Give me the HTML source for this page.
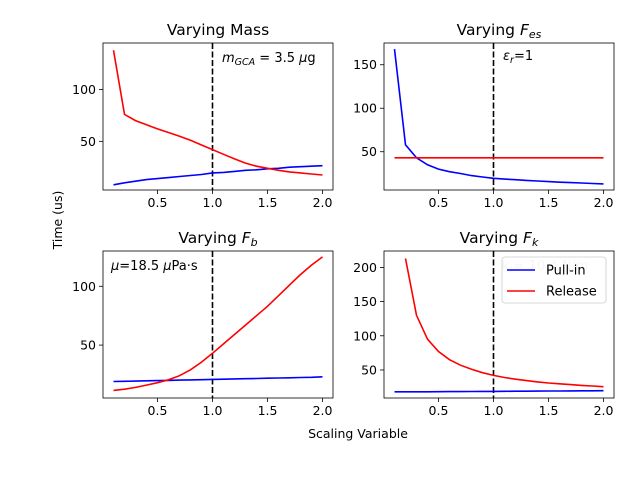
<!DOCTYPE html>
<html><head><meta charset="utf-8"><style>
body{margin:0;background:#fff}
svg{display:block;font-family:"DejaVu Sans","Liberation Sans",sans-serif}
</style></head><body>
<svg id="fig" width="640" height="480">
<text x="62" y="220" font-size="12.5" text-anchor="middle" transform="rotate(-90 62 220)">Time (us)</text>
<text x="358" y="438" font-size="12.5" text-anchor="middle">Scaling Variable</text>
</svg>
<script>
const xs=[0.1,0.2,0.3,0.4,0.5,0.6,0.7,0.8,0.9,1.0,1.1,1.2,1.3,1.4,1.5,1.6,1.7,1.8,1.9,2.0];
const massPull=[8,10,11.5,13,14,15,16,17,18,19.5,20,21,22,22.5,23.5,24,25,25.5,26,26.5];
const massRel=[138,76,70,66,62,58.5,55,51,46.5,42,37.5,33,29,26,24,22,20.5,19.5,18.5,17.5];
const fesPull=[168,58,43,35,30,27,25,22.5,21,19.5,18.5,17.8,17,16.3,15.7,15,14.5,14,13.5,13];
const fesRel=[43,43,43,43,43,43,43,43,43,43,43,43,43,43,43,43,43,43,43,43];
const fbPull=[19,19.2,19.4,19.6,19.8,20,20.2,20.4,20.6,20.8,21,21.2,21.4,21.6,21.8,22,22.2,22.4,22.6,23];
const fbRel=[11.5,12.5,14,16,18,20.5,24,29,35.5,43,51,59,67,75,83,92,101,110,118,125];
const fkPull=[18,18,18,18,18.2,18.3,18.4,18.5,18.6,18.7,18.8,18.9,19,19.1,19.2,19.3,19.4,19.5,19.6,19.7];
const fkRel=[null,213,130,95,77,65,57,51,46,42,39,36.5,34.5,32.5,31,29.8,28.6,27.5,26.5,25.5];
const xTicks=[0.5,1.0,1.5,2.0];
const panels=[
 {name:'mass',title:'Varying Mass',L:103,R:333,T:43,B:190,ymin:3,ymax:145,yt:[50,100],pull:massPull,rel:massRel,
  note:'<tspan font-style="italic">m</tspan><tspan font-style="italic" font-size="9.5" dy="3">GCA</tspan><tspan dy="-3"> = 3.5 </tspan><tspan font-style="italic">μ</tspan>g',nx:222,ny:62},
 {name:'fes',title:'Varying <tspan font-style="italic">F</tspan><tspan font-style="italic" font-size="11" dy="3">es</tspan>',L:384,R:614,T:43,B:190,ymin:6,ymax:175,yt:[50,100,150],pull:fesPull,rel:fesRel,
  note:'<tspan font-style="italic">ε</tspan><tspan font-style="italic" font-size="9.5" dy="3">r</tspan><tspan dy="-3">=1</tspan>',nx:503,ny:60},
 {name:'fb',title:'Varying <tspan font-style="italic">F</tspan><tspan font-style="italic" font-size="11" dy="3">b</tspan>',L:103,R:333,T:251,B:398,ymin:5,ymax:130,yt:[50,100],pull:fbPull,rel:fbRel,
  note:'<tspan font-style="italic">μ</tspan>=18.5 <tspan font-style="italic">μ</tspan>Pa·s',nx:111,ny:270},
 {name:'fk',title:'Varying <tspan font-style="italic">F</tspan><tspan font-style="italic" font-size="11" dy="3">k</tspan>',L:384,R:614,T:251,B:398,ymin:9,ymax:224,yt:[50,100,150,200],pull:fkPull,rel:fkRel,
  note:'k = 10.4 N/m',nx:502,ny:270,gray:true}
];
const NS='http://www.w3.org/2000/svg';
const svg=document.getElementById('fig');
function mk(t,a,p){const e=document.createElementNS(NS,t);for(const k in a)e.setAttribute(k,a[k]);(p||svg).appendChild(e);return e;}
panels.forEach(p=>{
 const g=mk('g',{});
 
 
 const sx=v=>p.L+(v-0.005)/(2.095-0.005)*(p.R-p.L);
 const sy=v=>p.B-(v-p.ymin)/(p.ymax-p.ymin)*(p.B-p.T);
 const t=mk('text',{x:(p.L+p.R)/2,y:p.T-8,'font-size':15.5,'text-anchor':'middle'},g);
 t.innerHTML=p.title;
 
 
 xTicks.forEach(v=>{
  mk('line',{x1:sx(v),x2:sx(v),y1:p.B,y2:p.B+4,stroke:'#000','stroke-width':0.8},g);
  const tl=mk('text',{x:sx(v),y:p.B+17,'font-size':12.5,'text-anchor':'middle'},g);
  tl.textContent=v.toFixed(1);
  
  
 });
 p.yt.forEach(v=>{
  mk('line',{x1:p.L-4,x2:p.L,y1:sy(v),y2:sy(v),stroke:'#000','stroke-width':0.8},g);
  const tl=mk('text',{x:p.L-7,y:sy(v)+4.5,'font-size':12.5,'text-anchor':'end'},g);
  tl.textContent=v;
  
  
 });
 const note=mk('text',{x:p.nx,y:p.ny,'font-size':13,fill:p.gray?'#ccc':'#000'},g);
 note.innerHTML=p.note;
 
 
 const vl=mk('line',{x1:sx(1),x2:sx(1),y1:p.T,y2:p.B,stroke:'#000','stroke-width':1.6,'stroke-dasharray':'6,2.5'},g);
 
 
 [['pull',p.pull,'#0000ff'],['rel',p.rel,'#ff0000']].forEach(([n,arr,c])=>{
  const pts=[];arr.forEach((v,i)=>{if(v!=null)pts.push(sx(xs[i]).toFixed(1)+','+sy(v).toFixed(1));});
  const pl=mk('polyline',{points:pts.join(' '),fill:'none',stroke:c,'stroke-width':1.6},g);
  
  
 });
 const fr=mk('rect',{x:p.L,y:p.T,width:p.R-p.L,height:p.B-p.T,fill:'none',stroke:'#000','stroke-width':0.8},g);
 
 
});
const lg=mk('g',{});


mk('rect',{x:502,y:257,width:104,height:46,rx:3,fill:'rgba(255,255,255,0.8)',stroke:'#ccc','stroke-width':0.8},lg);
[['Pull-in','#0000ff',270],['Release','#ff0000',291]].forEach(([l,c,y])=>{
 mk('line',{x1:507,x2:535,y1:y,y2:y,stroke:c,'stroke-width':1.6},lg);
 const tx=mk('text',{x:546,y:y+4.5,'font-size':13},lg);
 tx.textContent=l;
 
 
});
</script>
</body></html>
